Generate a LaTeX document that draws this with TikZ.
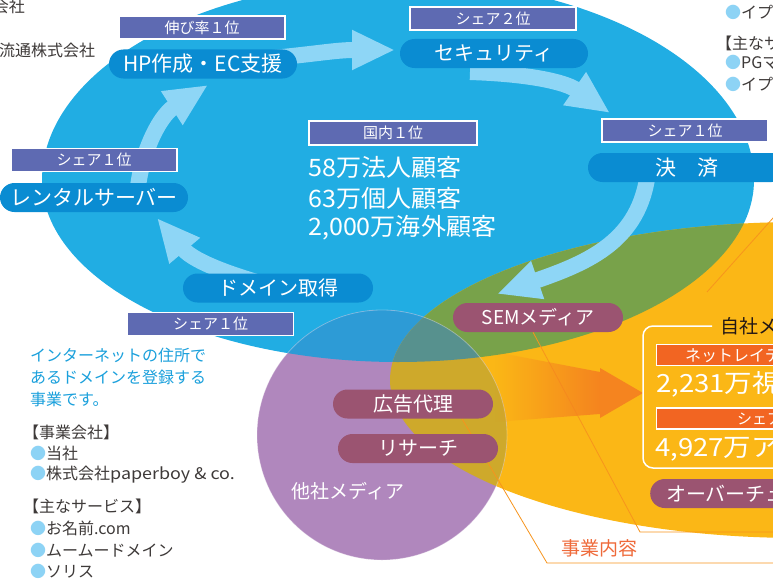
\documentclass[tikz,border=0pt]{standalone}
\usepackage{fontspec}
\setmainfont{Noto Sans CJK JP}
\usetikzlibrary{arrows.meta,shapes.misc,fadings}
\definecolor{egg}{HTML}{21ADE3}
\definecolor{org}{HTML}{FBB716}
\definecolor{grn}{HTML}{78A24A}
\definecolor{pur}{HTML}{B087BD}
\definecolor{purblue}{HTML}{2D9BD6}
\definecolor{purorg}{HTML}{CEA92B}
\definecolor{tealx}{HTML}{57918E}
\definecolor{arr}{HTML}{8ED6F6}
\definecolor{pillblue}{HTML}{0A8CD2}
\definecolor{labpur}{HTML}{5E6AB2}
\definecolor{mauve}{HTML}{9B5471}
\definecolor{redlab}{HTML}{F26522}
\definecolor{txtblue}{HTML}{1AA0DC}
\definecolor{txtgray}{HTML}{3E3A39}
\definecolor{bul}{HTML}{8DD3F5}
\definecolor{leader}{HTML}{F7941D}
\definecolor{bigarr}{HTML}{F5841F}
\definecolor{jigyo}{HTML}{EF6A3A}
\definecolor{ink}{HTML}{231815}
\newcommand\fsz[1]{\fontsize{#1}{#1}\selectfont}
\newcommand\BlueEgg{(42,180) arc[start angle=180,end angle=360,x radius=356,y radius=200] arc[start angle=0,end angle=180,x radius=356,y radius=182] -- cycle}
\newcommand\OrgEll{(800,380) ellipse[x radius=410,y radius=158]}
\newcommand\PurCirc{(382,435) circle[radius=125]}
\newcommand\bl{{\color{bul}●}}
\newcommand\wide[2]{\scalebox{#1}[1]{#2}}
\pgfdeclarelayer{shapes}
\pgfdeclarelayer{links}
\pgfsetlayers{shapes,links,main}
\begin{document}
\begin{tikzpicture}[x=1pt,y=-1pt,
  pillb/.style={rounded rectangle, fill=pillblue, text=white, inner sep=0pt, minimum height=29pt, font=\fsz{20}},
  pillm/.style={rounded rectangle, fill=mauve, text=white, inner sep=0pt, minimum height=29pt, font=\fsz{20}},
  lab/.style={fill=labpur, draw=white, line width=1.2pt, text=white, inner sep=0pt, minimum height=23pt, minimum width=166pt, font=\fsz{15}},
  redbox/.style={fill=redlab, draw=white, line width=1.2pt, inner sep=0pt, minimum height=21pt, minimum width=190pt, anchor=west},
  cyc/.style={arr, line width=16pt, -{Triangle[length=43pt,width=37pt]}},
  lead/.style={leader, line width=0.8pt},
  txt/.style={inner sep=0pt, anchor=west},
]
\useasboundingbox (0,0) rectangle (773,578);
\begin{pgfonlayer}{shapes}
\clip (0,0) rectangle (773,578);
\fill[white] (0,0) rectangle (773,578);
\fill[egg] \BlueEgg;
\fill[org] \OrgEll;
\begin{scope}\clip \BlueEgg; \fill[grn] \OrgEll;\end{scope}
\fill[pur] \PurCirc;
\begin{scope}\clip \PurCirc;
  \fill[purblue] \BlueEgg;
  \fill[purorg] \OrgEll;
  \clip \BlueEgg; \fill[tealx] \OrgEll;
\end{scope}
\draw[white, opacity=.3, line width=.8pt] \PurCirc;
\end{pgfonlayer}

% pills
\node[pillb, minimum width=188pt, font=\fsz{21}] (hp) at (203,64) {HP作成・EC支援};
\node[pillb, minimum width=188pt] (sec) at (494,53.5) {セキュリティ};
\node[pillb, minimum width=198pt, font=\fsz{21}] (kes) at (687,167.5) {決　済};
\node[pillb, minimum width=188pt, font=\fsz{21}] (rent) at (94,197.5) {レンタルサーバー};
\node[pillb, minimum width=190pt] (dom) at (278,288) {ドメイン取得};
\node[pillm, minimum width=170pt, font=\fsz{19}] (sem) at (538,317.5) {SEMメディア};
\node[pillm, minimum width=160pt] (kok) at (413,404) {広告代理};
\node[pillm, minimum width=160pt] (res) at (418,448.5) {リサーチ};
\node[pillm, anchor=west, inner xsep=13pt] (ovt) at (650,493.5) {オーバーチュア};

% labels
\node[lab] (lhp) at (202,27.5) {伸び率１位};
\node[lab] (lsec) at (493,18.5) {シェア２位};
\node[lab] (lkes) at (685,130.5) {シェア１位};
\node[lab] (lrent) at (94,160) {シェア１位};
\node[lab] (ldom) at (210.5,324) {シェア１位};
\node[lab, minimum width=168pt, minimum height=24pt] (lkok) at (393,133) {国内１位};

% center figures
\node[txt, text=white, font=\fsz{24}] (c1) at (308,167) {\wide{1.045}{58万法人顧客}};
\node[txt, text=white, font=\fsz{24}] (c2) at (308,198) {\wide{1.045}{63万個人顧客}};
\node[txt, text=white, font=\fsz{24}] (c3) at (308,228) {\wide{1.045}{2,000万海外顧客}};

% other media
\node[text=white, font=\fsz{19}, inner sep=0pt] (tasha) at (348,491) {他社メディア};

% own media box
\draw[white, line width=1.5pt, rounded corners=10pt] (712,326) -- (643,326) -- (643,468) -- (790,468);
\node[txt, text=ink, font=\fsz{19}] (jisha) at (720,326) {自社メディア};
\node[redbox] (nrbox) at (656,355) {};
\node[txt, text=white, font=\fsz{16}] (nrtxt) at (685,355) {ネットレイティングス};
\node[txt, text=white, font=\fsz{25}] (v1) at (656,384) {\wide{1.1}{2,231万視聴者}};
\node[redbox] (shbox) at (656,418.5) {};
\node[txt, text=white, font=\fsz{15}] (shtxt) at (737,418.5) {シェア１位};
\node[txt, text=white, font=\fsz{25}] (v2) at (655,449) {\wide{1.1}{4,927万アクセス}};

% left texts
\node[txt, text=txtblue, font=\fsz{16}] (d1) at (30,355) {インターネットの住所で};
\node[txt, text=txtblue, font=\fsz{16}] (d2) at (30,377) {あるドメインを登録する};
\node[txt, text=txtblue, font=\fsz{16}] (d3) at (30,399) {事業です。};
\node[txt, text=txtgray, font=\fsz{16}] (g1) at (23,432) {【事業会社】};
\node[txt, text=txtgray, font=\fsz{16}] (g2) at (30,453) {\bl 当社};
\node[txt, text=txtgray, font=\fsz{16}] (g3) at (30,475) {\bl 株式会社\wide{1.12}{paperboy \& co.}};
\node[txt, text=txtgray, font=\fsz{16}] (g4) at (23,506) {【主なサービス】};
\node[txt, text=txtgray, font=\fsz{16}] (g5) at (30,528) {\bl お名前.com};
\node[txt, text=txtgray, font=\fsz{16}] (g6) at (30,550) {\bl ムームードメイン};
\node[txt, text=txtgray, font=\fsz{16}] (g7) at (30,571) {\bl ソリス};

% cropped corner texts
\node[inner sep=0pt, anchor=east, text=txtgray, font=\fsz{16}] (tl1) at (25,6) {会社};
\node[txt, text=txtgray, font=\fsz{16}] (tl2) at (-1,50) {流通株式会社};
\node[txt, text=txtgray, font=\fsz{16}] (tr1) at (725,12) {\bl イプシロン};
\node[txt, text=txtgray, font=\fsz{16}] (tr2) at (716,43) {【主なサービス】};
\node[txt, text=txtgray, font=\fsz{16}] (tr3) at (725,62) {\bl PGマルチペイメント};
\node[txt, text=txtgray, font=\fsz{16}] (tr4) at (725,84) {\bl イプシロン};

\node[txt, text=jigyo, font=\fsz{19}] (jigyo) at (561,548) {事業内容};

\coordinate (a1s) at (137,200);
\coordinate (a1t) at (208,85);
\coordinate (a2t) at (395,50);
\coordinate (a3s) at (470,72);
\coordinate (a3t) at (610,113);
\coordinate (a4s) at (648,172);
\coordinate (a4t) at (497,294);
\coordinate (a5t) at (157,218);
\coordinate (offA) at (790,532);
\coordinate (offB) at (790,563);
\coordinate (offC) at (790,199);
\coordinate (bendA) at (640,532);
\coordinate (bendB) at (547,563);
\coordinate (ptC) at (707,292);

\begin{pgfonlayer}{links}
\clip (0,0) rectangle (773,578);
\draw[lead] (sem.south) ++(-5,0) -- (bendA) -- (offA);
\draw[lead] (kok.south) ++(49,0) -- (bendB) -- (offB);
\draw[lead] (offC) -- (ptC);
\draw[cyc] (a1s) .. controls (138,160) and (158,117) .. (a1t);
\draw[cyc] (hp.center) .. controls (310,56) and (330,50) .. (a2t);
\draw[cyc] (a3s) .. controls (530,74) and (565,82) .. (a3t);
\draw[cyc] (a4s) .. controls (640,240) and (590,262) .. (a4t);
\draw[cyc] (dom.center) .. controls (240,278) and (195,263) .. (a5t);
\fill[bigarr, path fading=west] (495,352) -- (600,372) -- (600,414) -- (495,422) -- cycle;
\fill[bigarr] (600,368) -- (643,393) -- (600,418) -- cycle;
\end{pgfonlayer}
\end{tikzpicture}
\end{document}
